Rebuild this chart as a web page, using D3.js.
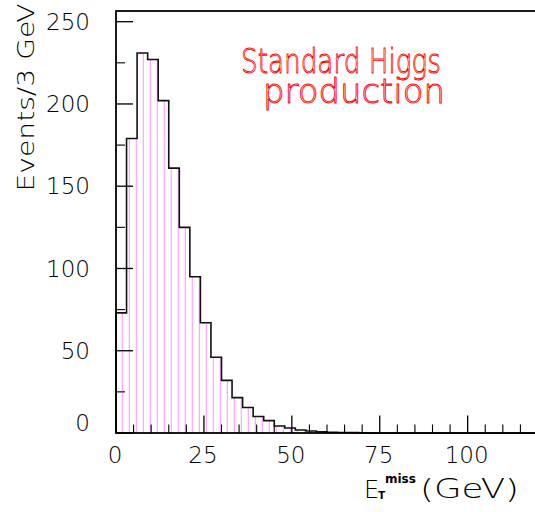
<!DOCTYPE html>
<html>
<head>
<meta charset="utf-8">
<script src="https://cdn.jsdelivr.net/npm/d3@7"></script>
<style>
  html, body { margin: 0; padding: 0; background: #fff; }
  svg { display: block; }
  text { font-family: "DejaVu Sans", sans-serif; }
</style>
</head>
<body>
<svg id="chart" width="535" height="512"></svg>
<script>
// Missing transverse energy, 3 GeV bins from 0 to 120 GeV
const binWidth = 3;
const binLow = d3.range(0, 120, binWidth);
const events = [
  73, 179, 231, 227, 202, 161, 125, 95, 67, 46,
  32, 21.5, 15.5, 10, 7.5, 4.3, 3, 1.8, 1.2, 0.7,
  0.4, 0.3, 0.2, 0.1, 0, 0, 0, 0, 0, 0,
  0, 0, 0, 0, 0, 0, 0, 0, 0, 0
];
const xMajor = [0, 25, 50, 75, 100];
const xMinor = d3.range(0, 121, 5);
const yMajor = [0, 50, 100, 150, 200, 250];
const yMinor = d3.range(0, 251, 25);
const titleLines = ["Standard Higgs", "production"];

const svg = d3.select("#chart");
const plotL = 116, plotR = 538, plotT = 11, plotB = 433;

const x = d3.scaleLinear().domain([0, 120]).range([plotL, plotR]);
const y = d3.scaleLinear().domain([0, 256.5]).range([plotB, plotT]);

// vertical hatch used as the histogram fill
const hatchStep = 7;
const defs = svg.append("defs");
const pat = defs.append("pattern")
  .attr("id", "hatch")
  .attr("patternUnits", "userSpaceOnUse")
  .attr("x", 0).attr("y", 0)
  .attr("width", hatchStep).attr("height", 10);
const hx = (plotL + 6.3) % hatchStep;
pat.append("line")
  .attr("x1", hx).attr("x2", hx)
  .attr("y1", 0).attr("y2", 10)
  .attr("stroke", "#ff9cff").attr("stroke-width", 1.1);

// step outline of the histogram
const pts = [[x(0), y(0)]];
binLow.forEach((lo, i) => {
  pts.push([x(lo), y(events[i])]);
  pts.push([x(lo + binWidth), y(events[i])]);
});
pts.push([x(120), y(0)]);
const line = d3.line();

svg.append("path")
  .attr("d", line(pts) + "Z")
  .attr("fill", "url(#hatch)")
  .attr("stroke", "none");

svg.append("path")
  .attr("d", line(pts))
  .attr("fill", "none")
  .attr("stroke", "#111")
  .attr("stroke-width", 1.6);

// frame
svg.append("rect")
  .attr("x", plotL).attr("y", plotT)
  .attr("width", plotR - plotL).attr("height", plotB - plotT)
  .attr("fill", "none").attr("stroke", "#000").attr("stroke-width", 1.8);

// inward ticks
const g = svg.append("g").attr("stroke", "#000");
xMinor.forEach(v => {
  const major = xMajor.includes(v);
  g.append("line")
    .attr("x1", x(v)).attr("x2", x(v))
    .attr("y1", plotB).attr("y2", plotB - (major ? 17.5 : 8.5))
    .attr("stroke-width", major ? 1.3 : 1.1);
});
yMinor.forEach(v => {
  const major = yMajor.includes(v);
  g.append("line")
    .attr("x1", plotL).attr("x2", plotL + (major ? 17 : 9))
    .attr("y1", y(v)).attr("y2", y(v))
    .attr("stroke-width", major ? 1.3 : 1.1);
});

// tick labels
const tickFont = 23;
svg.append("g").selectAll("text").data(xMajor).join("text")
  .attr("x", d => x(d) - 1)
  .attr("y", 463)
  .attr("text-anchor", "middle")
  .attr("font-size", tickFont)
  .attr("font-weight", 200)
  .attr("fill", "#000")
  .text(d => d);

svg.append("g").selectAll("text").data(yMajor).join("text")
  .attr("x", 90)
  .attr("y", d => Math.min(y(d), y(0) - 10))
  .attr("dy", "0.36em")
  .attr("text-anchor", "end")
  .attr("font-size", tickFont)
  .attr("font-weight", 200)
  .attr("fill", "#000")
  .text(d => d);

// y axis title
svg.append("text")
  .attr("transform", "translate(33.5,191.5) rotate(-90)")
  .attr("font-size", 23)
  .attr("font-weight", 200)
  .attr("textLength", 188)
  .attr("lengthAdjust", "spacingAndGlyphs")
  .text("Events/3 GeV");

// x axis title: E_T^miss (GeV)
const xt = svg.append("text").attr("x", 364).attr("y", 498).attr("font-weight", 200);
xt.append("tspan").attr("font-size", 24).text("E");
xt.append("tspan").attr("dx", -1).attr("dy", 1).attr("font-size", 10).attr("font-weight", "bold").text("T");
xt.append("tspan").attr("dx", 0).attr("dy", -16).attr("font-size", 12).attr("font-weight", "bold").text("miss");
svg.append("text")
  .attr("x", 420).attr("y", 498)
  .attr("font-size", 26)
  .attr("font-weight", 200)
  .attr("textLength", 99)
  .attr("lengthAdjust", "spacingAndGlyphs")
  .text("(GeV)");

// red outlined label, two lines
const titleSpec = [
  { x: 241, y: 73, len: 200 },
  { x: 263, y: 103, len: 182 }
];
const title = svg.append("text")
  .attr("font-size", 34)
  .attr("font-weight", 200)
  .attr("fill", "none")
  .attr("stroke", "#ff0000")
  .attr("stroke-width", 0.9);
titleLines.forEach((t, i) => {
  title.append("tspan")
    .attr("x", titleSpec[i].x).attr("y", titleSpec[i].y)
    .attr("textLength", titleSpec[i].len)
    .attr("lengthAdjust", "spacingAndGlyphs")
    .text(t);
});
</script>
</body>
</html>
